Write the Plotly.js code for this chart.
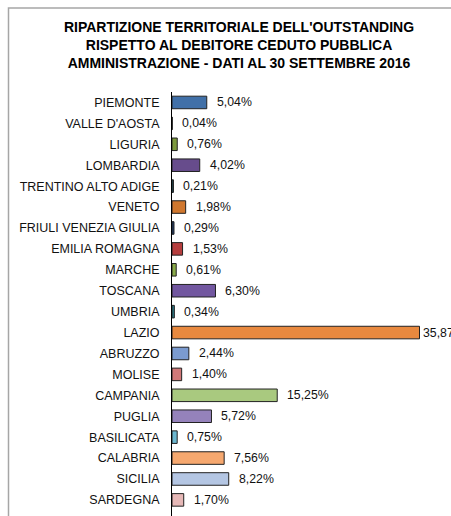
<!DOCTYPE html>
<html>
<head>
<meta charset="utf-8">
<script src="https://cdn.plot.ly/plotly-3.0.1.min.js"></script>
<style>
html,body{margin:0;padding:0;background:#fff;}
#chart{width:451px;height:516px;}
</style>
</head>
<body>
<div id="chart"></div>
<script>
const regions = ["PIEMONTE","VALLE D'AOSTA","LIGURIA","LOMBARDIA","TRENTINO ALTO ADIGE","VENETO","FRIULI VENEZIA GIULIA","EMILIA ROMAGNA","MARCHE","TOSCANA","UMBRIA","LAZIO","ABRUZZO","MOLISE","CAMPANIA","PUGLIA","BASILICATA","CALABRIA","SICILIA","SARDEGNA"];
const shares = [5.04,0.04,0.76,4.02,0.21,1.98,0.29,1.53,0.61,6.30,0.34,35.87,2.44,1.40,15.25,5.72,0.75,7.56,8.22,1.70];
const barColors = ["#4170a8","#1a1a1a","#7d9a3e","#674c8c","#1d5560","#d0772e","#213b68","#b63e3e","#8aab4a","#7257a0","#2c7884","#e8893f","#7b9bd0","#d17878","#a9c97f","#9582bb","#6cb7cf","#f6a86f","#b4c6e3","#e6b8b7"];

const fmt = v => v.toFixed(2).replace('.', ',') + '%';

const trace = {
  type: 'bar',
  orientation: 'h',
  x: shares,
  y: regions,
  width: 0.6,
  marker: {color: barColors, line: {color: '#222222', width: 1}},
  hoverinfo: 'none'
};

const annotations = shares.map((v, i) => ({
  x: v, y: regions[i], xref: 'x', yref: 'y',
  text: fmt(v), showarrow: false,
  xanchor: 'left', yanchor: 'middle',
  xshift: v > 30 ? 1 : 8,
  font: {family: 'Liberation Sans, Arial, sans-serif', size: 12.3, color: '#111111'}
}));

const layout = {
  width: 451, height: 516,
  margin: {l: 172, r: 3, t: 91.5, b: 0, pad: 0},
  paper_bgcolor: '#ffffff',
  plot_bgcolor: '#ffffff',
  showlegend: false,
  title: {
    text: "RIPARTIZIONE TERRITORIALE DELL'OUTSTANDING<br>RISPETTO AL DEBITORE CEDUTO PUBBLICA<br>AMMINISTRAZIONE - DATI AL 30 SETTEMBRE 2016",
    font: {family: 'Liberation Sans, Arial, sans-serif', size: 14, color: '#000000', weight: 'bold'},
    x: 0.53, xanchor: 'center', xref: 'container',
    y: 0.938, yanchor: 'top', yref: 'container'
  },
  xaxis: {
    range: [0, 40], showgrid: false, zeroline: false, showline: false,
    showticklabels: false, ticks: '', fixedrange: true
  },
  yaxis: {
    type: 'category', range: [19.77, -0.5], showgrid: false, zeroline: false,
    showline: true, linecolor: '#000000', linewidth: 1, ticks: '',
    ticklabelstandoff: 9,
    tickfont: {family: 'Liberation Sans, Arial, sans-serif', size: 12.5, color: '#111111'},
    fixedrange: true
  },
  annotations: annotations,
  shapes: [{
    type: 'path', xref: 'paper', yref: 'paper',
    path: 'M 1.2 ' + ((516 - 7.5) / 424.5) + ' L ' + ((8.5 - 172) / 276) + ' ' + ((516 - 7.5) / 424.5) + ' L ' + ((8.5 - 172) / 276) + ' -0.1',
    line: {color: '#a6a6a6', width: 1.5}
  }]
};

Plotly.newPlot('chart', [trace], layout, {displayModeBar: false, staticPlot: true});
</script>
</body>
</html>
